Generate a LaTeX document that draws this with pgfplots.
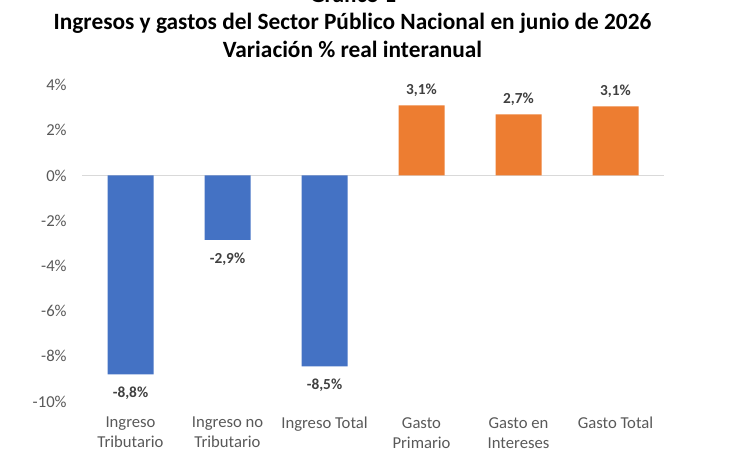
\documentclass[border=0pt]{standalone}
\usepackage{fontspec}
\setmainfont{Carlito}
\usepackage{pgfplots}
\pgfplotsset{compat=1.18}
\definecolor{barblue}{HTML}{4472C4}
\definecolor{barorange}{HTML}{ED7D31}
\definecolor{ticktext}{HTML}{595959}
\definecolor{labtext}{HTML}{404040}
\definecolor{zeroline}{HTML}{D9D9D9}
\begin{document}
\begin{tikzpicture}[x=0.75pt,y=0.75pt]
\node[font=\bfseries\fontsize{17.5}{21}\selectfont, anchor=base, inner sep=0pt] at (353,467) {Gráfico 1};
\node[font=\bfseries\fontsize{17.5}{21}\selectfont, anchor=base, inner sep=0pt] at (352.5,440) {Ingresos y gastos del Sector Público Nacional en junio de 2026};
\node[font=\bfseries\fontsize{17.5}{21}\selectfont, anchor=base, inner sep=0pt] at (352.5,412) {Variación \% real interanual};
\begin{axis}[
  at={(61.5pt,51.375pt)}, anchor=south west,
  scale only axis, width=436.5pt, height=237.4pt,
  xmin=-0.5, xmax=5.5, ymin=-10, ymax=4,
  axis line style={draw=none}, tick style={draw=none},
  ytick={-10,-8,-6,-4,-2,0,2,4},
  yticklabels={-10\%,-8\%,-6\%,-4\%,-2\%,0\%,2\%,4\%},
  yticklabel style={font=\fontsize{12.5}{15}\selectfont, text=ticktext, xshift=-8pt},
  xtick={0,1,2,3,4,5},
  xticklabels={{Ingreso\\Tributario},{Ingreso no\\Tributario},{Ingreso Total},{Gasto\\Primario},{Gasto en\\Intereses},{Gasto Total}},
  xticklabel style={font=\fontsize{12.5}{15}\selectfont, text=ticktext, align=center, anchor=north, yshift=-4pt},
  ybar, bar width=34.5pt, bar shift=0pt,
  point meta=explicit symbolic,
  nodes near coords,
  every node near coord/.append style={font=\bfseries\fontsize{11.5}{13}\selectfont, text=labtext},
  clip=false,
]
\addplot[sharp plot, draw=zeroline, line width=0.8pt, forget plot, nodes near coords={}] coordinates {(-0.5,0) (5.5,0)};
\addplot[fill=barblue, draw=none, every node near coord/.append style={anchor=north, yshift=-6pt}] coordinates {(0,-8.8) [-8,8\%] (1,-2.85) [-2,9\%] (2,-8.45) [-8,5\%]};
\addplot[fill=barorange, draw=none, every node near coord/.append style={yshift=3pt}] coordinates {(3,3.1) [3,1\%] (4,2.7) [2,7\%] (5,3.05) [3,1\%]};
\end{axis}
\pgfresetboundingbox
\useasboundingbox (0,0) rectangle (730,470);
\end{tikzpicture}
\end{document}
